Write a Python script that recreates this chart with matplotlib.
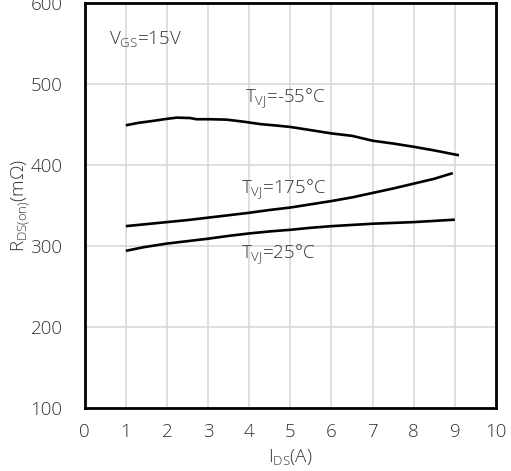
import matplotlib
matplotlib.use("Agg")
import matplotlib.pyplot as plt

plt.rcParams['font.family'] = ['Open Sans', 'DejaVu Sans']
plt.rcParams['font.weight'] = 'light'
plt.rcParams['axes.labelweight'] = 'light'
plt.rcParams['mathtext.fontset'] = 'custom'
plt.rcParams['mathtext.rm'] = 'Open Sans:light'
plt.rcParams['mathtext.it'] = 'Open Sans:light'

# Drain current (A) and on-resistance (mOhm) per junction temperature
i_ds_m55 = [1.0, 1.3, 1.67, 2.0, 2.24, 2.56, 2.72, 3.05, 3.45, 3.86, 4.27, 4.6, 5.0, 5.5, 6.0, 6.5, 7.0, 7.5, 8.0, 8.5, 9.1]
r_m55 = [449, 452, 454.5, 457, 458.5, 458, 456.5, 456.5, 456, 453.5, 450.5, 449, 447, 443, 439, 436, 430, 426.5, 422.5, 418, 412]

i_ds_175 = [1.0, 1.5, 2.0, 2.5, 3.0, 3.5, 4.0, 4.5, 5.0, 5.5, 6.0, 6.5, 7.0, 7.5, 8.0, 8.5, 8.95]
r_175 = [324.5, 327, 329.5, 332, 335, 338, 341, 344.5, 347.5, 351.5, 355.5, 360, 365.5, 371, 377, 383, 390]

i_ds_25 = [1.0, 1.43, 2.0, 2.5, 3.0, 3.5, 4.0, 4.5, 5.0, 5.5, 6.0, 6.5, 7.0, 7.5, 8.0, 8.5, 9.0]
r_25 = [294, 298.5, 303, 306, 309, 312.5, 315.5, 318, 320, 322.5, 324.5, 326, 327.5, 328.5, 329.5, 331, 332.5]

x_ticks = [0, 1, 2, 3, 4, 5, 6, 7, 8, 9, 10]
y_ticks = [100, 200, 300, 400, 500, 600]

text_color = '#333333'
fs = 13.5

fig = plt.figure(figsize=(5.11, 4.71), dpi=100)
ax = fig.add_axes([0.1658, 0.1338, 0.9706 - 0.1658, 0.9936 - 0.1338])

ax.plot(i_ds_m55, r_m55, color='black', lw=1.9, solid_capstyle='butt')
ax.plot(i_ds_175, r_175, color='black', lw=1.9, solid_capstyle='butt')
ax.plot(i_ds_25, r_25, color='black', lw=1.9, solid_capstyle='butt')

ax.set_xlim(0, 10)
ax.set_ylim(100, 600)
ax.set_xticks(x_ticks)
ax.set_yticks(y_ticks)
ax.grid(True, color='#d6d6d6', lw=1.1)
ax.set_axisbelow(True)
ax.tick_params(length=0, labelsize=fs, labelcolor=text_color)
ax.tick_params(axis='x', pad=11)
ax.tick_params(axis='y', pad=16)
for s in ax.spines.values():
    s.set_linewidth(2.0)
    s.set_color('black')

ax.set_xlabel(r'$\mathrm{I_{DS}}$(A)', fontsize=fs, color=text_color, labelpad=4)
ax.set_ylabel(r'$\mathrm{R_{DS(on)}}$(m$\Omega$)', fontsize=fs, color=text_color, labelpad=-1)

ax.text(0.6, 555, r'$\mathrm{V_{GS}}$=15V', fontsize=fs, color=text_color, va='center')
ax.text(3.9, 482, r'$\mathrm{T_{VJ}}$=-55°C', fontsize=fs, color=text_color, va='center')
ax.text(3.8, 370, r'$\mathrm{T_{VJ}}$=175°C', fontsize=fs, color=text_color, va='center')
ax.text(3.8, 290, r'$\mathrm{T_{VJ}}$=25°C', fontsize=fs, color=text_color, va='center')

fig.savefig('out.png', dpi=100)
